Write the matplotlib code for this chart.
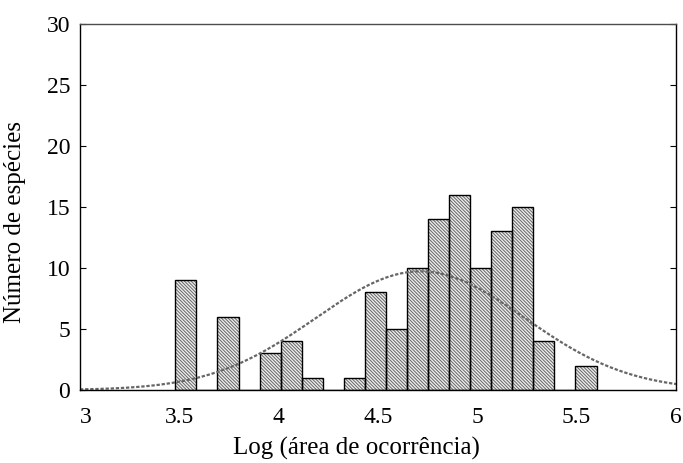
import numpy as np
import matplotlib
matplotlib.use("Agg")
import matplotlib.pyplot as plt

plt.rcParams["font.family"] = ["Liberation Serif", "DejaVu Serif"]
plt.rcParams["hatch.linewidth"] = 0.7

# histogram: 20 equal bins between 3.48 and 5.60
bin_lo = 3.48
bin_hi = 5.60
counts = [9, 0, 6, 0, 3, 4, 1, 0, 1, 8, 5, 10, 14, 16, 10, 13, 15, 4, 0, 2]
x_ticks = [3, 3.5, 4, 4.5, 5, 5.5, 6]
y_ticks = [0, 5, 10, 15, 20, 25, 30]

counts = np.array(counts)
edges = np.linspace(bin_lo, bin_hi, len(counts) + 1)
width = edges[1] - edges[0]
centers = edges[:-1] + width / 2

# normal fit on the binned data
n = counts.sum()
mu = (counts * centers).sum() / n
sd = np.sqrt((counts * (centers - mu) ** 2).sum() / (n - 1))
xs = np.linspace(3, 6, 300)
fit = n * width * np.exp(-0.5 * ((xs - mu) / sd) ** 2) / (sd * np.sqrt(2 * np.pi))

fig = plt.figure(figsize=(6.83, 4.63), dpi=100)
ax = fig.add_axes([80 / 683, 73 / 463, 596 / 683, 366 / 463])

ax.bar(centers, counts, width=width, color="0.93", edgecolor="0.4",
       hatch="\\" * 10, linewidth=0)
ax.bar(centers, counts, width=width, fill=False, edgecolor="black", linewidth=1.0)
ax.plot(xs, fit, color="0.4", linestyle=(0, (1.5, 0.8)), linewidth=1.6)

ax.set_xlim(3, 6)
ax.set_ylim(0, 30)
ax.set_xticks(x_ticks)
ax.set_xticklabels([f"{t:g}" for t in x_ticks])
ax.get_xticklabels()[0].set_horizontalalignment("left")
ax.set_yticks(y_ticks)
ax.tick_params(axis="y", direction="in", length=4, right=True, labelsize=17, pad=7)
ax.tick_params(axis="x", direction="out", length=0, labelsize=17, pad=12)
for s in ax.spines.values():
    s.set_linewidth(1.0)
ax.spines["top"].set_color("0.3")

ax.set_xlabel("Log (área de ocorrência)", fontsize=18)
ax.xaxis.set_label_coords((356 - 80) / 596, -0.128)
ax.set_ylabel("Número de espécies", fontsize=18)
ax.yaxis.set_label_coords(-0.09, 0.459)

fig.savefig("out.png", dpi=100)
